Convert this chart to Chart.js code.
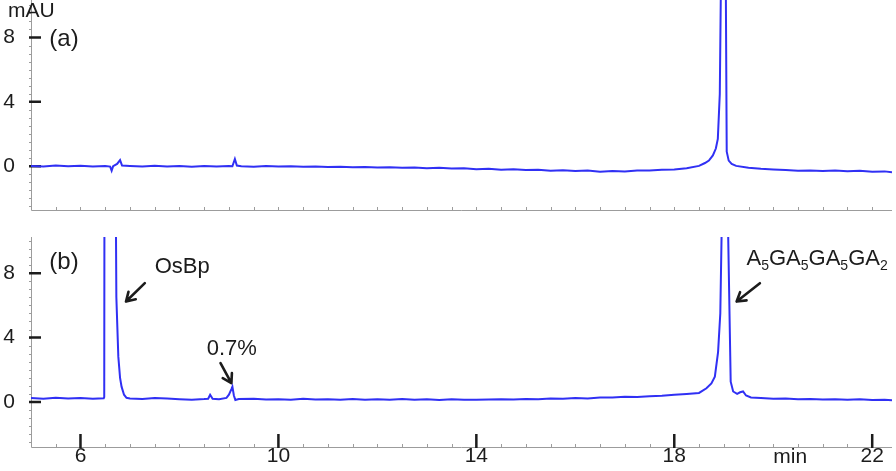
<!DOCTYPE html>
<html>
<head>
<meta charset="utf-8">
<script src="https://cdn.jsdelivr.net/npm/chart.js@4.4.1/dist/chart.umd.min.js"></script>
<style>
  html, body { margin: 0; padding: 0; background: #fff; }
  #wrap { position: relative; width: 896px; height: 471px; overflow: hidden; }
  .box { position: absolute; left: 0; width: 896px; }
  #boxA { top: 0; height: 225px; }
  #boxB { top: 225px; height: 246px; }
</style>
</head>
<body>
<div id="wrap">
  <div class="box" id="boxA"><canvas id="chartA"></canvas></div>
  <div class="box" id="boxB"><canvas id="chartB"></canvas></div>
</div>
<script>
'use strict';

// trace (a): time in min, absorbance in mAU
let timeA = [
  5.00, 5.25, 5.50, 5.75, 6.00, 6.25, 6.50, 6.60, 6.63, 6.66, 6.74, 6.80, 6.84,
  7.00, 7.25, 7.50, 7.75, 8.00, 8.25, 8.50, 8.75, 9.00, 9.07, 9.12, 9.16, 9.25,
  9.50, 9.75, 10.00, 10.25, 10.50, 10.75, 11.00, 11.25, 11.50, 11.75, 12.00,
  12.25, 12.50, 12.75, 13.00, 13.25, 13.50, 13.75, 14.00, 14.25, 14.50, 14.75,
  15.00, 15.25, 15.50, 15.75, 16.00, 16.25, 16.50, 16.75, 17.00, 17.25, 17.50,
  17.75, 18.00, 18.25, 18.50, 18.62, 18.70, 18.78, 18.84, 18.88, 18.92, 18.945,
  18.97, 19.00, 19.02, 19.04, 19.06, 19.10, 19.16, 19.25, 19.50, 19.75, 20.00,
  20.25, 20.50, 20.75, 21.00, 21.25, 21.50, 21.75, 22.00, 22.25, 22.40
];
let signalA = [
  0.02, -0.01, 0.04, 0.00, 0.03, -0.02, 0.02, -0.02, -0.28, 0.00, 0.14, 0.38, 0.04,
  0.02, -0.02, 0.03, -0.01, 0.02, -0.03, 0.01, -0.02, 0.01, 0.00, 0.45, 0.04, 0.00,
  -0.03, 0.01, -0.02, 0.00, -0.04, -0.02, -0.05, -0.03, -0.07, -0.05, -0.08,
  -0.06, -0.10, -0.08, -0.12, -0.10, -0.14, -0.12, -0.18, -0.16, -0.22, -0.19,
  -0.24, -0.22, -0.28, -0.25, -0.30, -0.27, -0.34, -0.30, -0.32, -0.27, -0.26,
  -0.22, -0.20, -0.12, 0.02, 0.20, 0.35, 0.67, 1.10, 1.70, 4.50, 12.0,
  80.0, 120.0, 80.0, 12.0, 0.90, 0.35, 0.15, 0.02, -0.10, -0.16, -0.20,
  -0.24, -0.28, -0.26, -0.30, -0.27, -0.31, -0.28, -0.34, -0.32, -0.38
];

// trace (b)
let timeB = [
  5.00, 5.25, 5.50, 5.75, 6.00, 6.25, 6.47, 6.48, 6.50, 6.60, 6.69, 6.725, 6.765,
  6.80, 6.83, 6.88, 6.93, 7.00, 7.25, 7.50, 7.75, 8.00, 8.25, 8.50, 8.58, 8.62,
  8.67, 8.80, 8.95, 9.00, 9.05, 9.07, 9.10, 9.13, 9.20, 9.50, 9.75, 10.00, 10.25,
  10.50, 10.75, 11.00, 11.25, 11.50, 11.75, 12.00, 12.25, 12.50, 12.75, 13.00,
  13.25, 13.50, 13.75, 14.00, 14.25, 14.50, 14.75, 15.00, 15.25, 15.50, 15.75,
  16.00, 16.25, 16.50, 16.75, 17.00, 17.25, 17.50, 17.75, 18.00, 18.25, 18.50,
  18.65, 18.75, 18.82, 18.885, 18.93, 18.965, 18.985, 19.03, 19.065, 19.08, 19.14,
  19.19, 19.27, 19.33, 19.39, 19.45, 19.55, 19.75, 20.00, 20.25, 20.50, 20.75,
  21.00, 21.25, 21.50, 21.75, 22.00, 22.25, 22.40
];
let signalB = [
  0.24, 0.20, 0.26, 0.21, 0.25, 0.20, 0.23, 0.30, 60.0, 150.0, 25.0, 6.50, 2.80,
  1.50, 0.95, 0.45, 0.26, 0.22, 0.19, 0.25, 0.21, 0.17, 0.14, 0.18, 0.20, 0.45,
  0.20, 0.17, 0.25, 0.45, 0.80, 0.95, 0.40, 0.12, 0.18, 0.20, 0.15, 0.17, 0.13,
  0.20, 0.15, 0.17, 0.13, 0.18, 0.14, 0.16, 0.13, 0.18, 0.14, 0.16,
  0.12, 0.17, 0.14, 0.13, 0.15, 0.17, 0.15, 0.19, 0.17, 0.21, 0.20,
  0.24, 0.22, 0.27, 0.28, 0.32, 0.31, 0.36, 0.38, 0.44, 0.50, 0.56,
  0.85, 1.15, 1.57, 3.10, 5.50, 12.0, 60.0, 150.0, 60.0, 12.0, 1.26,
  0.65, 0.50, 0.60, 0.65, 0.40, 0.28, 0.24, 0.20, 0.22, 0.17, 0.19,
  0.15, 0.17, 0.13, 0.16, 0.12, 0.14, 0.11
];

let yTicks = [0, 4, 8];
let xTicks = [6, 10, 14, 18, 22];

const FONT = '"Liberation Sans", Arial, Helvetica, sans-serif';
const TRACE = '#3030f4';
const INK = '#1c1c1c';

function toPoints(times, values) {
  let pts = [];
  for (let i = 0; i < times.length; i++) {
    pts.push({ x: times[i], y: values[i] });
  }
  return pts;
}

function drawArrow(ctx, x1, y1, x2, y2) {
  let ang = Math.atan2(y2 - y1, x2 - x1);
  let head = 10;
  ctx.save();
  ctx.strokeStyle = INK;
  ctx.lineWidth = 2.6;
  ctx.lineCap = 'round';
  ctx.lineJoin = 'round';
  ctx.beginPath();
  ctx.moveTo(x1, y1);
  ctx.lineTo(x2, y2);
  ctx.moveTo(x2 - head * Math.cos(ang - 0.55), y2 - head * Math.sin(ang - 0.55));
  ctx.lineTo(x2, y2);
  ctx.lineTo(x2 - head * Math.cos(ang + 0.55), y2 - head * Math.sin(ang + 0.55));
  ctx.stroke();
  ctx.restore();
}

// text pieces starting with '_' are subscripts
function drawRich(ctx, parts, x, y, size) {
  parts.forEach(function (p) {
    let sub = p.charAt(0) === '_';
    let s = sub ? p.slice(1) : p;
    ctx.font = (sub ? 14 : size) + 'px ' + FONT;
    ctx.fillText(s, x, sub ? y + 5 : y);
    x += ctx.measureText(s).width;
  });
}

let decorPlugin = {
  id: 'decor',
  beforeDatasetsDraw(chart, args, opts) {
    let ctx = chart.ctx;
    let area = chart.chartArea;
    let xs = chart.scales.x;
    let ys = chart.scales.y;
    ctx.save();
    // axis lines and minor ticks
    ctx.strokeStyle = '#9c9c9c';
    ctx.lineWidth = 1;
    ctx.beginPath();
    ctx.moveTo(area.left + 0.5, area.top);
    ctx.lineTo(area.left + 0.5, area.bottom + 0.5);
    ctx.lineTo(area.right, area.bottom + 0.5);
    for (let v = -2.5; v <= 10; v += 0.5) {
      let py = Math.round(ys.getPixelForValue(v)) + 0.5;
      ctx.moveTo(area.left - 2, py);
      ctx.lineTo(area.left + 0.5, py);
    }
    for (let t = 5; t <= 22.4; t += 0.5) {
      let px = Math.round(xs.getPixelForValue(t)) + 0.5;
      ctx.moveTo(px, area.bottom);
      ctx.lineTo(px, area.bottom - 3);
    }
    ctx.stroke();
    // major ticks
    ctx.strokeStyle = INK;
    ctx.lineWidth = 2.5;
    ctx.beginPath();
    yTicks.forEach(function (v) {
      let py = ys.getPixelForValue(v);
      ctx.moveTo(area.left - 2, py);
      ctx.lineTo(area.left + 10, py);
    });
    if (opts.xMajor) {
      xTicks.forEach(function (t) {
        let px = xs.getPixelForValue(t);
        ctx.moveTo(px, area.bottom - 13);
        ctx.lineTo(px, area.bottom + 1);
      });
    }
    ctx.stroke();
    ctx.restore();
  },
  afterDraw(chart, args, opts) {
    let ctx = chart.ctx;
    let area = chart.chartArea;
    let xs = chart.scales.x;
    let ys = chart.scales.y;
    ctx.save();
    ctx.fillStyle = INK;
    ctx.textBaseline = 'alphabetic';
    ctx.textAlign = 'left';
    (opts.notes || []).forEach(function (n) {
      let px = n.px !== undefined ? area.left + n.px : xs.getPixelForValue(n.x);
      let py = n.py !== undefined ? n.py : ys.getPixelForValue(n.y);
      drawRich(ctx, n.parts, px, py, n.size || 22);
    });
    (opts.arrows || []).forEach(function (a) {
      drawArrow(ctx, xs.getPixelForValue(a[0]), ys.getPixelForValue(a[1]),
        xs.getPixelForValue(a[2]), ys.getPixelForValue(a[3]));
    });
    ctx.restore();
  }
};

function makeChart(id, times, values, yMin, yMax, showX, pad, decor) {
  return new Chart(document.getElementById(id), {
    type: 'line',
    data: {
      datasets: [{
        data: toPoints(times, values),
        borderColor: TRACE,
        borderWidth: 2,
        pointRadius: 0,
        tension: 0
      }]
    },
    options: {
      responsive: true,
      maintainAspectRatio: false,
      animation: false,
      layout: { padding: pad },
      plugins: {
        legend: { display: false },
        tooltip: { enabled: false },
        decor: decor
      },
      scales: {
        x: {
          type: 'linear',
          min: 5,
          max: 22.4,
          display: showX,
          grid: { display: false, drawTicks: false },
          border: { display: false },
          ticks: { font: { family: FONT, size: 21 }, color: INK, padding: -3, maxRotation: 0, autoSkip: false },
          afterBuildTicks: function (s) { s.ticks = xTicks.map(function (v) { return { value: v }; }); },
          afterFit: function (s) {
            s.height = showX ? 24 : 0;
            s.paddingLeft = 0;
            s.paddingRight = 0;
          }
        },
        y: {
          min: yMin,
          max: yMax,
          grid: { display: false, drawTicks: false },
          border: { display: false },
          ticks: { font: { family: FONT, size: 21 }, color: INK, padding: 16 },
          afterBuildTicks: function (s) { s.ticks = yTicks.map(function (v) { return { value: v }; }); },
          afterFit: function (s) { s.width = 31; s.paddingTop = 0; s.paddingBottom = 0; }
        }
      }
    },
    plugins: [decorPlugin]
  });
}

makeChart('chartA', timeA, signalA, -2.72, 10.33, false,
  { top: 0, bottom: 15, left: 0, right: 4 },
  {
    xMajor: false,
    notes: [
      { parts: ['mAU'], px: -23, py: 17, size: 21 },
      { parts: ['(a)'], x: 5.37, y: 7.5, size: 24 }
    ]
  });

makeChart('chartB', timeB, signalB, -2.8, 10.25, true,
  { top: 12, bottom: 0, left: 0, right: 4 },
  {
    xMajor: true,
    notes: [
      { parts: ['(b)'], x: 5.37, y: 8.25, size: 24 },
      { parts: ['OsBp'], x: 7.5, y: 8.0 },
      { parts: ['0.7%'], x: 8.55, y: 2.93 },
      { parts: ['A', '_5', 'GA', '_5', 'GA', '_5', 'GA', '_2'], x: 19.46, y: 8.5 },
      { parts: ['min'], x: 20.0, py: 238, size: 21 }
    ],
    arrows: [
      [7.30, 7.38, 6.92, 6.24],
      [8.83, 2.41, 9.05, 1.17],
      [19.73, 7.38, 19.26, 6.24]
    ]
  });
</script>
</body>
</html>
